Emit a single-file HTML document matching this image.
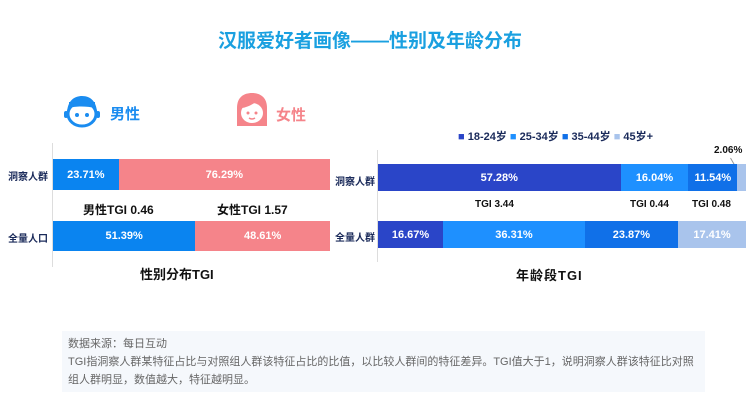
<!DOCTYPE html>
<html><head><meta charset="utf-8"><style>
*{margin:0;padding:0;box-sizing:border-box}
body{width:750px;height:400px;background:#fff;position:relative;overflow:hidden;font-family:"Liberation Sans","Noto Sans CJK SC",sans-serif}
.a{position:absolute}
.t{font-weight:bold;white-space:nowrap}
.bar{position:absolute;display:flex;color:#fff;font-size:11px;font-weight:bold}
.bar div{display:flex;align-items:center;justify-content:center;overflow:hidden;white-space:nowrap}
.lab{font-size:10px;font-weight:bold;color:#1a2a5a}
</style></head><body>
<div class="a t" style="left:0;width:740px;top:26px;text-align:center;font-size:19px;color:#1aa0e0">汉服爱好者画像——性别及年龄分布</div>

<svg class="a" style="left:63px;top:94px" width="38" height="34" viewBox="0 0 38 34">
<path d="M4 20 C4 6 12 2 19 2 C28 2 34 8 34 20" fill="#1a8cf0"/>
<ellipse cx="19" cy="20" rx="14" ry="12" fill="#fff" stroke="#1a8cf0" stroke-width="3"/>
<path d="M6 14 C12 12 24 12 32 14 L32 8 L6 8Z" fill="#1a8cf0"/>
<circle cx="14" cy="21" r="2" fill="#1a8cf0"/><circle cx="24" cy="21" r="2" fill="#1a8cf0"/>
<rect x="1" y="17" width="4" height="7" rx="2" fill="#1a8cf0"/><rect x="33" y="17" width="4" height="7" rx="2" fill="#1a8cf0"/>
</svg>
<div class="a t" style="left:110px;top:103px;font-size:15px;color:#1a8cf0">男性</div>
<svg class="a" style="left:234px;top:92px" width="36" height="36" viewBox="0 0 36 36">
<path d="M3 34 L3 16 C3 5 10 1 18 1 C26 1 33 5 33 16 L33 34Z" fill="#f5848a"/>
<ellipse cx="18" cy="21" rx="11" ry="10" fill="#fff"/>
<path d="M7 16 C12 16 20 12 24 8 C26 12 29 15 30 16 L30 10 L7 10Z" fill="#f5848a"/>
<circle cx="14" cy="21" r="1.5" fill="#f5848a"/><circle cx="22" cy="21" r="1.5" fill="#f5848a"/>
<path d="M15 26 Q18 28 21 26" stroke="#f5848a" stroke-width="1.5" fill="none"/>
</svg>
<div class="a t" style="left:276px;top:104px;font-size:15px;color:#f5848a">女性</div>

<div class="a" style="left:52px;top:143px;width:1px;height:124px;background:#ddd"></div>
<div class="a lab" style="left:8px;top:168px">洞察人群</div>
<div class="a lab" style="left:8px;top:230px">全量人口</div>
<div class="bar" style="left:53px;top:159px;width:277px;height:31px">
<div style="width:23.71%;background:#0a84f0">23.71%</div><div style="flex:1;background:#f5848a">76.29%</div></div>
<div class="bar" style="left:53px;top:221px;width:277px;height:30px">
<div style="width:51.39%;background:#0a84f0">51.39%</div><div style="flex:1;background:#f5848a">48.61%</div></div>
<div class="a t" style="left:83px;top:201px;font-size:12px;color:#111">男性TGI 0.46</div>
<div class="a t" style="left:217px;top:201px;font-size:12px;color:#111">女性TGI 1.57</div>
<div class="a t" style="left:140px;top:264px;font-size:13px;color:#111">性别分布TGI</div>

<div class="a" style="left:458px;top:128px;font-size:11px;font-weight:bold;color:#1a2a5a;white-space:nowrap">
<span style="color:#2a45c8">■</span> 18-24岁 <span style="color:#1e90ff">■</span> 25-34岁 <span style="color:#1070e8">■</span> 35-44岁 <span style="color:#a9c4ec">■</span> 45岁+</div>
<div class="a lab" style="left:335px;top:173px">洞察人群</div>
<div class="a lab" style="left:335px;top:229px">全量人群</div>
<div class="a" style="left:377px;top:150px;width:1px;height:112px;background:#ddd"></div>
<div class="a t" style="left:714px;top:145px;font-size:10px;color:#111">2.06%</div>
<div class="a" style="left:730px;top:158px;width:1px;height:18px;background:#999;transform:rotate(-30deg);transform-origin:top"></div>
<div class="bar" style="left:378px;top:164px;width:368px;height:27px">
<div style="flex:57.28;background:#2a45c8">57.28%</div><div style="flex:16.04;background:#1e90ff">16.04%</div><div style="flex:11.54;background:#1070e8">11.54%</div><div style="flex:2.06;background:#a9c4ec"></div></div>
<div class="bar" style="left:378px;top:221px;width:368px;height:27px">
<div style="flex:16.67;background:#2a45c8">16.67%</div><div style="flex:36.31;background:#1e90ff">36.31%</div><div style="flex:23.87;background:#1070e8">23.87%</div><div style="flex:17.41;background:#a9c4ec">17.41%</div></div>
<div class="a t" style="left:475px;top:199px;font-size:10px;color:#111">TGI 3.44</div>
<div class="a t" style="left:630px;top:199px;font-size:10px;color:#111">TGI 0.44</div>
<div class="a t" style="left:692px;top:199px;font-size:10px;color:#111">TGI 0.48</div>
<div class="a t" style="left:516px;top:265px;font-size:13px;color:#111;letter-spacing:1px">年龄段TGI</div>

<div class="a" style="left:62px;top:331px;width:643px;height:61px;background:#f5f8fc"></div>
<div class="a" style="left:68px;top:335px;width:635px;font-size:11px;line-height:18px;color:#666">数据来源：每日互动<br>TGI指洞察人群某特征占比与对照组人群该特征占比的比值，以比较人群间的特征差异。TGI值大于1，说明洞察人群该特征比对照组人群明显，数值越大，特征越明显。</div>
</body></html>
